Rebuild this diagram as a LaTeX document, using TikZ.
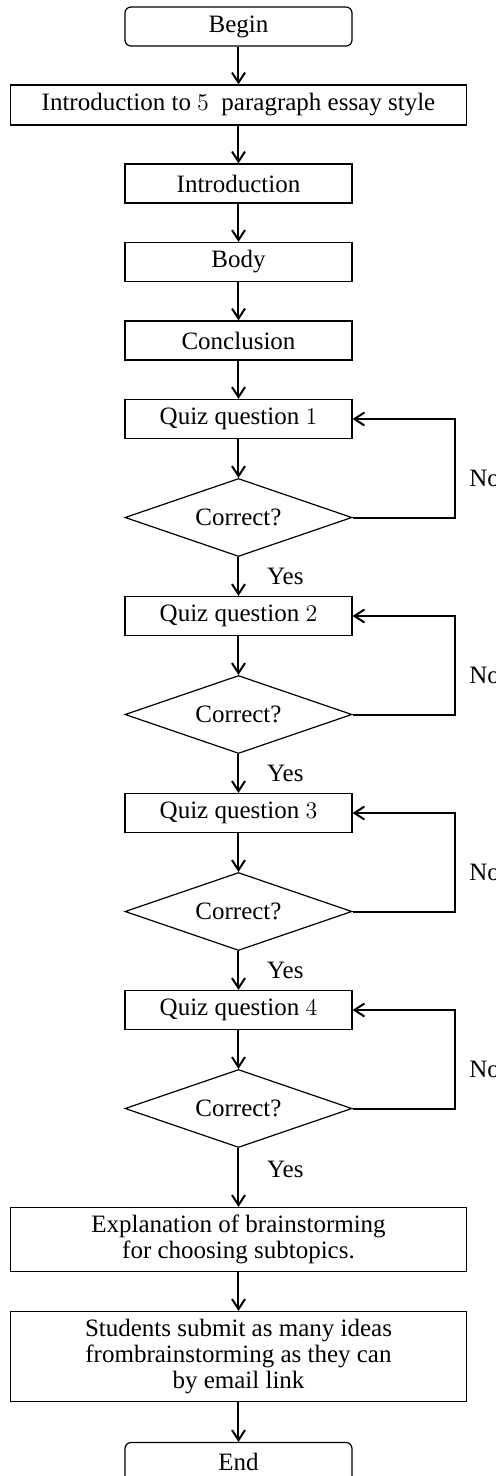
\documentclass[tikz,border=0pt]{standalone}
\usepackage{fontspec}
\setmainfont{Liberation Serif}
\usepackage{tikz}
\usetikzlibrary{shapes.geometric, arrows.meta}
\tikzstyle{startstop} = [rectangle, rounded corners=3pt, minimum width=113.5pt, minimum height=19.5pt, text centered, draw=black, line width=0.6pt]
\tikzstyle{process} = [rectangle, minimum width=113.5pt, minimum height=19.5pt, text centered, draw=black, line width=0.6pt]
\tikzstyle{wideprocess} = [process, minimum width=228pt, align=center]
\tikzstyle{decision} = [diamond, aspect=3, minimum width=113.5pt, minimum height=39pt, inner sep=0pt, text centered, draw=black, line width=0.6pt]
\tikzstyle{arrow} = [line width=1pt,->,>={Straight Barb[length=5pt,width=6.5pt]}]

\begin{document}
\begin{tikzpicture}[node distance=39.25pt, font=\fontsize{12.5}{13}\selectfont]
        \useasboundingbox (-119.25pt,13.25pt) rectangle (128.75pt,-724.75pt);
        \node (begin) [startstop] {Begin};
        \node (essay) [wideprocess, minimum height=20pt, below of=begin] {Introduction to $5$ \ paragraph essay style};
        \node (intro) [process, below of=essay] {Introduction};
        \node (body) [process, below of=intro] {Body};
        \node (concl) [process, below of=body] {Conclusion};
        \node (quiz1) [process, below of=concl] {Quiz question $1$};
        \node (check1) [decision, below of=quiz1, node distance=49.25pt] {Correct?};
        \node (quiz2) [process, below of=check1, node distance=49.25pt] {Quiz question $2$};
        \node (check2) [decision, below of=quiz2, node distance=49.25pt] {Correct?};
        \node (quiz3) [process, below of=check2, node distance=49.25pt] {Quiz question $3$};
        \node (check3) [decision, below of=quiz3, node distance=49.25pt] {Correct?};
        \node (quiz4) [process, below of=check3, node distance=49.25pt] {Quiz question $4$};
        \node (check4) [decision, below of=quiz4, node distance=49.25pt] {Correct?};
        \node (explain) [wideprocess, minimum height=32pt, below of=check4, node distance=65.5pt] {Explanation of brainstorming\\ for choosing subtopics.};
        \node (submit) [wideprocess, minimum height=45pt, below of=explain, node distance=58.5pt] {Students submit as many ideas\\ frombrainstorming as they can\\ by email link};
        \node (end) [startstop, below of=submit, node distance=52.75pt] {End};
        \draw [arrow] (begin) -- (essay);
        \draw [arrow] (essay) -- (intro);
        \draw [arrow] (intro) -- (body);
        \draw [arrow] (body) -- (concl);
        \draw [arrow] (concl) -- (quiz1);
        \draw [arrow] (quiz1) -- (check1);
        \draw [arrow] (check1) -- node[right=10.5pt] {Yes} (quiz2);
        \draw [arrow] (check1.east) -- ++(51pt,0) |- node[pos=0.2, right=3.5pt] {No} (quiz1.east);
        \draw [arrow] (quiz2) -- (check2);
        \draw [arrow] (check2) -- node[right=10.5pt] {Yes} (quiz3);
        \draw [arrow] (check2.east) -- ++(51pt,0) |- node[pos=0.2, right=3.5pt] {No} (quiz2.east);
        \draw [arrow] (quiz3) -- (check3);
        \draw [arrow] (check3) -- node[right=10.5pt] {Yes} (quiz4);
        \draw [arrow] (check3.east) -- ++(51pt,0) |- node[pos=0.2, right=3.5pt] {No} (quiz3.east);
        \draw [arrow] (quiz4) -- (check4);
        \draw [arrow] (check4) -- node[pos=0.36, right=10.5pt] {Yes} (explain);
        \draw [arrow] (check4.east) -- ++(51pt,0) |- node[pos=0.2, right=3.5pt] {No} (quiz4.east);
        \draw [arrow] (explain) -- (submit);
        \draw [arrow] (submit) -- (end);
    \end{tikzpicture}
\end{document}
